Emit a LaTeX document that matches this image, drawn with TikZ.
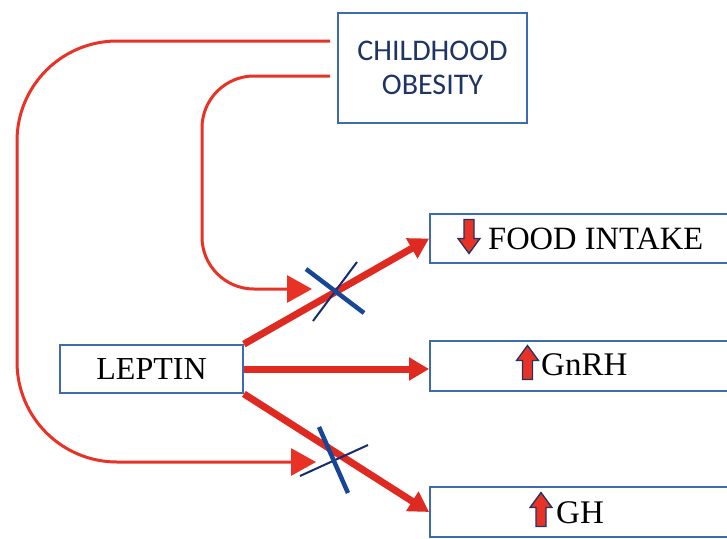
\documentclass[tikz,border=0pt]{standalone}
\usepackage{fontspec}
\setmainfont{Liberation Serif}
\newfontfamily\carlitofont{Carlito}
\usetikzlibrary{arrows.meta,calc}
\definecolor{lred}{RGB}{232,50,38}
\definecolor{mred}{RGB}{222,42,32}
\definecolor{boxblue}{RGB}{62,106,178}
\definecolor{navy}{RGB}{30,52,100}
\definecolor{crossblue}{RGB}{24,70,150}
\definecolor{crossdark}{RGB}{20,45,110}
\tikzset{
  box/.style={draw=boxblue, line width=1.8pt, fill=white, inner sep=0pt},
  mainarrow/.style={draw=mred, line width=7pt, -{Triangle[length=20pt,width=22pt]}},
  looparrow/.style={draw=lred, line width=3pt, -{Triangle[length=25pt,width=27pt]}},
  crossthick/.style={draw=crossblue, line width=4.5pt},
  crossthin/.style={draw=crossdark, line width=2pt},
  blockarr/.pic={\filldraw[fill=lred, draw=navy, line width=1.3pt, line join=miter]
     (0,-17) -- (11,-2) -- (5,-2) -- (5,17) -- (-5,17) -- (-5,-2) -- (-11,-2) -- cycle;}
}
\begin{document}
\begin{tikzpicture}[x=1pt,y=-1pt]
\clip (0,0) rectangle (727,538);
\fill[white] (0,0) rectangle (727,538);
% boxes
\node[box, minimum width=189pt, minimum height=110pt, align=center,
      font=\carlitofont\fontsize{30}{34}\selectfont, text=navy] (co) at (432.5,68) {CHILDHOOD\\OBESITY};
\node[box, minimum width=183pt, minimum height=48pt, font=\fontsize{32}{36}\selectfont] (leptin) at (151.5,369) {LEPTIN};
\node[box, minimum width=304pt, minimum height=49pt] (food) at (582,238.5) {};
\node[box, minimum width=304pt, minimum height=50pt] (gnrh) at (582,366) {};
\node[box, minimum width=304pt, minimum height=50pt] (gh) at (582,512) {};
% box contents
\pic[rotate=180] at (469,236.5) {blockarr};
\node[anchor=base west, inner sep=0pt, font=\fontsize{32.5}{36}\selectfont] (foodtxt) at (488,249) {FOOD INTAKE};
\pic at (527.5,362.5) {blockarr};
\node[anchor=base west, inner sep=0pt, font=\fontsize{33}{36}\selectfont] (gnrhtxt) at (541,375) {GnRH};
\pic at (541,509.5) {blockarr};
\node[anchor=base west, inner sep=0pt, font=\fontsize{33}{36}\selectfont] (ghtxt) at (556,523) {GH};
% block points
\coordinate (foodblock) at (312,289);
\coordinate (ghblock) at (316,462);
% loops
\draw[looparrow, rounded corners=100pt] ($(co.west)+(-7,-27)$) -- (17,41) -- (17,462) -- (ghblock);
\draw[looparrow, rounded corners=52pt] ($(co.west)+(-7,8)$) -- (202,76) -- (202,289) -- (foodblock);
% main arrows
\draw[mainarrow] (leptin.north east) -- (food.west);
\draw[mainarrow] (leptin.east) -- (leptin.east -| gnrh.west);
\draw[mainarrow] (leptin.south east) -- (gh.west);
% crosses
\draw[crossthin] (357,262) -- (313,321);
\draw[crossthick] (306,269) -- (364,313);
\draw[crossthin] (368,445) -- (300,476);
\draw[crossthick] (319,427) -- (348,493);
\end{tikzpicture}
\end{document}
